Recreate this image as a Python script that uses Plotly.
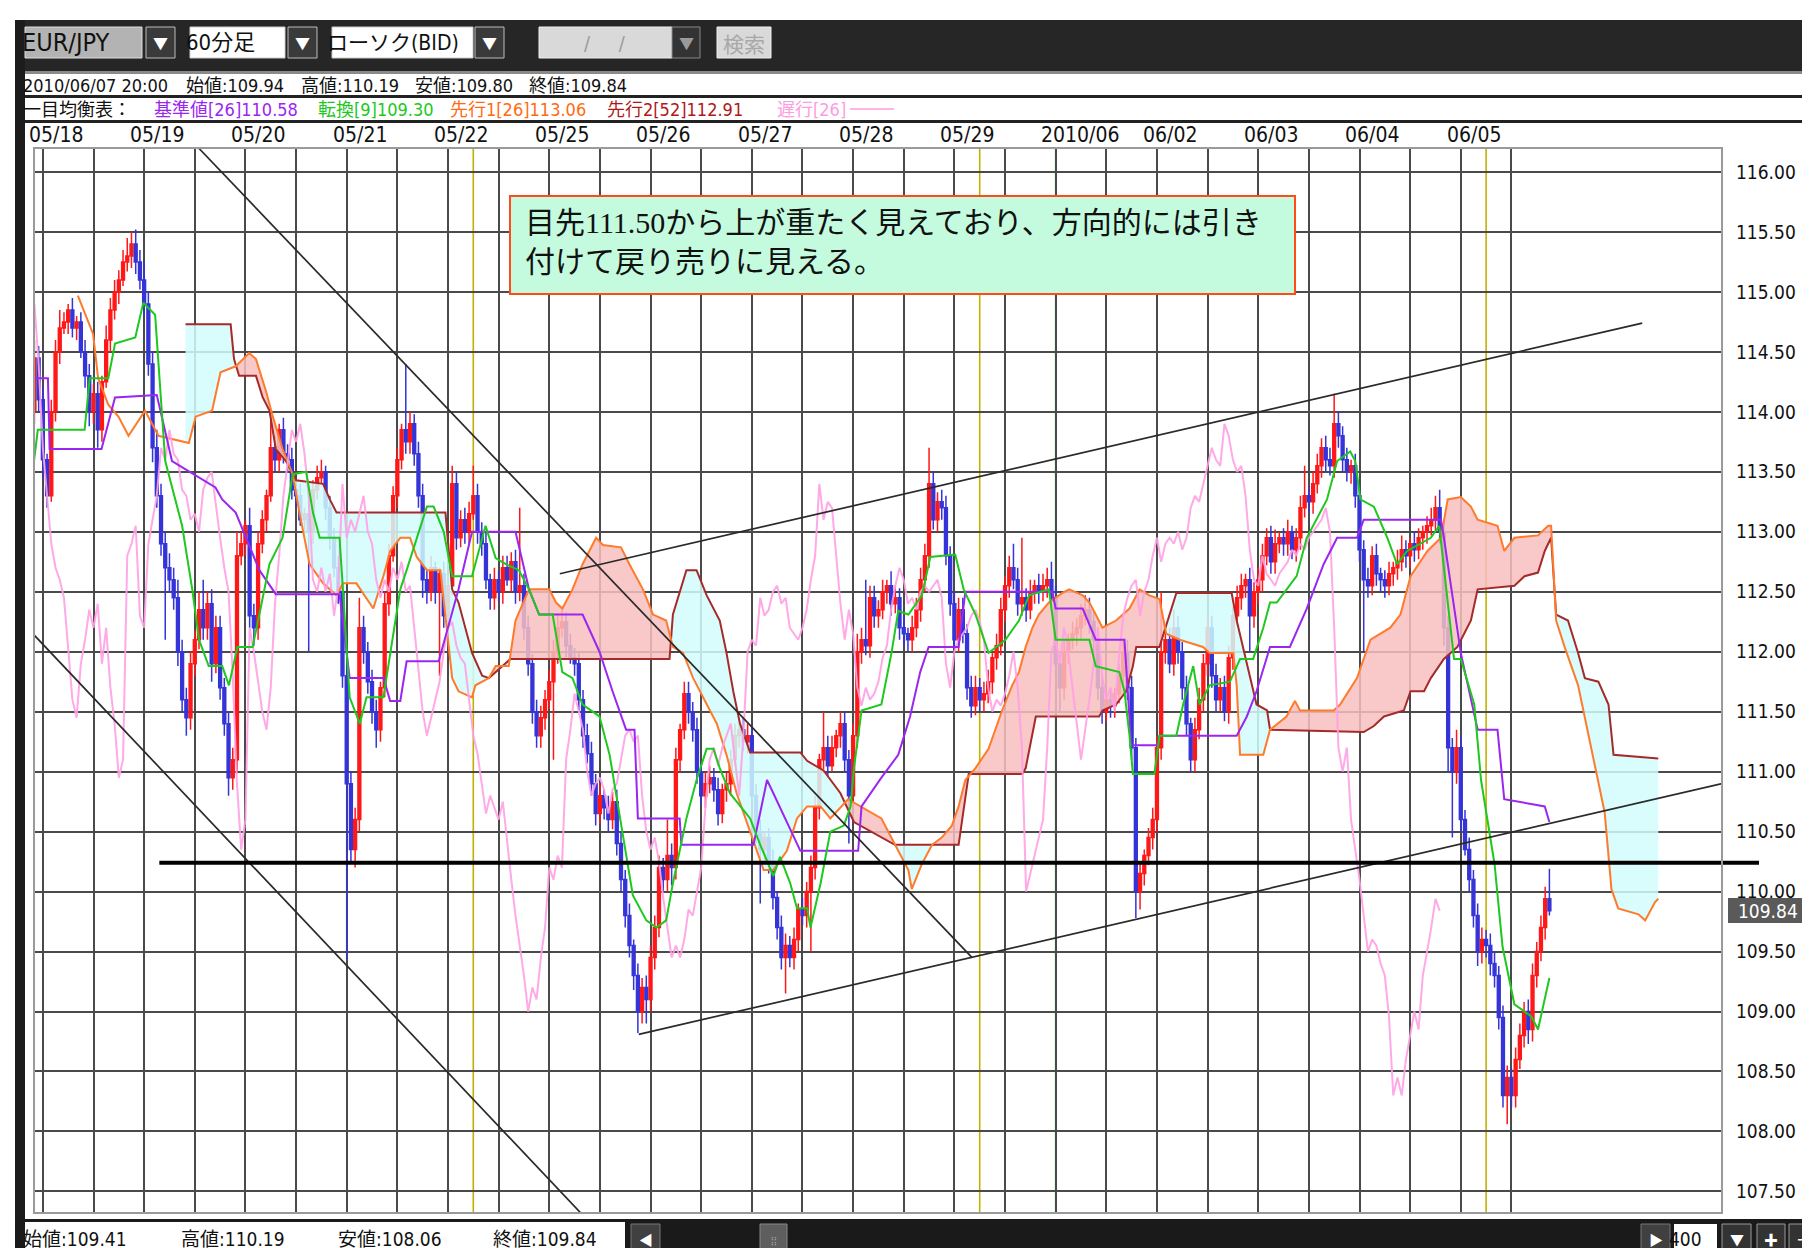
import numpy as np
import plotly.graph_objects as go

W, H = 1810, 1248
L, R, T, B = 26, 1714, 140, 1205
XR = [-0.1, 399.9]
YR = [107.32, 116.2]

COND = "DejaVu Sans Condensed, Liberation Sans Narrow, Noto Sans CJK JP, sans-serif"
JP = "Noto Sans CJK JP, sans-serif"
BOXFONT = "Liberation Serif, Noto Sans CJK JP, serif"

# ---------------- data ----------------
open0 = 114.0
close = [
    114.45, 114.1, 113.6, 113.3, 114.0, 114.5, 114.7, 114.75, 114.85, 114.7,
    114.75, 114.5, 114.3, 114.0, 114.15, 113.85, 114.25, 114.6, 114.85, 115.0,
    115.1, 115.25, 115.3, 115.4, 115.25, 115.1, 114.9, 114.4, 113.7, 113.3,
    112.9, 112.7, 112.6, 112.45, 112.0, 111.6, 111.45, 111.9, 112.1, 112.35,
    112.2, 112.4, 111.9, 112.2, 111.7, 111.4, 110.95, 111.1, 112.8, 112.9,
    113.05, 112.3, 112.2, 112.9, 113.1, 113.3, 113.7, 113.6, 113.85, 113.65,
    113.6, 113.35, 113.3, 113.1, 113.15, 113.0, 113.35, 113.45, 113.5, 113.2,
    112.95, 112.7, 112.5, 111.8, 110.9, 110.35, 110.6, 112.2, 112.0, 111.75,
    111.5, 111.35, 111.7, 112.4, 112.8, 113.3, 113.6, 113.85, 113.75, 113.9,
    113.65, 113.3, 112.6, 112.5, 112.7, 112.5, 112.65, 112.3, 112.55, 113.4,
    112.95, 113.1, 113.0, 113.15, 113.3, 113.0, 112.9, 112.6, 112.45, 112.6,
    112.5, 112.7, 112.6, 112.75, 112.5, 112.55, 112.2, 111.9, 111.5, 111.3,
    111.45, 111.6, 111.75, 112.0, 112.2, 112.25, 112.05, 111.95, 111.9, 111.6,
    111.3, 111.15, 110.9, 110.65, 110.8, 110.7, 110.6, 110.75, 110.4, 110.1,
    109.8, 109.55, 109.3, 109.0, 109.2, 109.1, 109.45, 109.7, 110.2, 110.1,
    110.3, 110.2, 111.1, 111.35, 111.65, 111.5, 111.35, 111.0, 110.8, 110.9,
    110.95, 110.85, 110.65, 110.85, 110.9, 111.1, 111.3, 111.35, 111.25, 111.3,
    110.8, 110.5, 110.35, 110.45, 110.25, 109.95, 109.7, 109.45, 109.55, 109.45,
    109.6, 109.85, 109.8, 110.0, 110.2, 110.7, 111.1, 111.2, 111.05, 111.2,
    111.3, 111.4, 111.1, 110.8, 111.3, 112.0, 112.1, 112.05, 112.45, 112.3,
    112.35, 112.5, 112.55, 112.4, 112.45, 112.2, 112.15, 112.1, 112.2, 112.35,
    112.6, 112.8, 113.4, 113.1, 113.25, 113.2, 112.8, 112.4, 112.1, 112.35,
    112.15, 111.7, 111.55, 111.7, 111.6, 111.65, 111.75, 111.95, 112.05, 112.35,
    112.55, 112.7, 112.6, 112.4, 112.45, 112.35, 112.5, 112.55, 112.5, 112.55,
    112.6, 112.45, 111.9, 111.7, 112.0, 112.1, 112.15, 112.2, 112.3, 112.35,
    112.25, 112.1, 111.7, 111.5, 111.6, 111.55, 111.65, 111.8, 112.0, 111.7,
    111.2, 110.0, 110.15, 110.3, 110.45, 110.6, 111.2, 112.0, 112.1, 111.9,
    112.2, 112.0, 111.7, 111.4, 111.1, 111.35, 111.6, 111.9, 112.2, 111.8,
    111.6, 111.7, 111.5, 111.95, 112.3, 112.45, 112.55, 112.6, 112.3, 112.5,
    112.6, 112.8, 112.95, 112.75, 112.9, 112.95, 112.9, 113.0, 112.85, 112.95,
    113.2, 113.3, 113.25, 113.4, 113.55, 113.7, 113.6, 113.55, 113.9, 113.8,
    113.6, 113.5, 113.55, 113.3, 112.85, 112.6, 112.55, 112.8, 112.65, 112.6,
    112.55, 112.65, 112.7, 112.75, 112.85, 112.8, 112.9, 112.85, 112.95, 113.0,
    113.05, 113.1, 113.2, 113.0, 112.2, 111.2, 111.0, 111.2, 110.6, 110.35,
    110.1, 109.8, 109.5, 109.6, 109.55, 109.4, 109.3, 108.95, 108.3, 108.45,
    108.3, 108.6, 108.8, 109.0, 108.85, 109.3, 109.5, 109.7, 109.94, 109.84,
]
hi_wick = [
    .15, .1, .1, .05, .1, .1, .15, .08, .05, .1, .05, .08, .1, .1, .08, .1, .05, .12, .1, .1,
    .08, .1, .15, .1, .12, .1, .15, .1, .1, .15, .1, .1, .12, .1, .15, .1, .1, .1, .08, .15,
    .25, .1, .12, .1, .1, .08, .1, .1, .2, .1, .05, .15, .1, .1, .08, .05, .25, .1, .05, .1,
    .08, .1, .05, .1, .05, .1, .08, .1, .1, .05, .1, .08, .1, .15, .1, .1, .1, .25, .1, .08,
    .1, .1, .05, .1, .1, .08, .1, .05, .55, .1, .08, .1, .1, .1, .1, .05, .05, .1, .1, .15,
    .1, .08, .1, .1, .25, .1, .08, .1, .05, .1, .08, .1, .1, .08, .1, .65, .1, .1, .08, .1,
    .1, .08, .1, .1, .12, .1, .08, .1, .08, .1, .08, .1, .1, .08, .1, .05, .1, .08, .1, .1,
    .08, .1, .05, .1, .08, .1, .1, .1, .1, .08, .3, .1, .1, .05, .1, .1, .08, .1, .05, .1,
    .1, .08, .1, .05, .1, .08, .1, .08, .1, .1, .08, .1, .1, .05, .08, .1, .05, .1, .1, .08,
    .1, .05, .1, .08, .1, .1, .05, .3, .1, .1, .05, .1, .1, .08, .1, .15, .1, .5, .1, .1,
    .08, .1, .05, .12, .1, .08, .1, .05, .1, .1, .1, .1, .3, .1, .08, .1, .1, .08, .1, .1,
    .1, .08, .1, .1, .08, .1, .1, .05, .1, .1, .08, .1, .2, .1, .5, .08, .1, .05, .1, .1,
    .1, .15, .1, .08, .1, .05, .1, .08, .1, .12, .1, .08, .1, .1, .08, .1, .05, .1, .1, .1,
    .1, .08, .1, .05, .08, .1, .1, .5, .1, .1, .15, .1, .08, .1, .05, .1, .1, .08, .1, .1,
    .1, .08, .1, .1, .08, .1, .1, .05, .1, .08, .1, .1, .08, .1, .12, .05, .08, .1, .05, .08,
    .1, .25, .08, .1, .1, .08, .1, .1, .25, .1, .08, .1, .05, .1, .1, .08, .1, .08, .1, .05,
    .08, .1, .05, .1, .12, .08, .05, .1, .08, .05, .08, .1, .1, .15, .1, .1, .08, .15, .1, .08,
    .1, .08, .1, .1, .08, .1, .1, .08, .1, .1, .08, .1, .1, .08, .1, .1, .08, .1, .1, .25,
]
lo_wick = [
    .1, .1, .15, .1, .05, .08, .1, .05, .1, .08, .1, .05, .1, .12, .1, .15, .1, .05, .1, .08,
    .1, .05, .08, .1, .1, .08, .1, .1, .12, .1, .1, .6, .1, .1, .12, .1, .15, .1, .1, .08,
    .1, .1, .15, .08, .1, .1, .15, .1, .1, .08, .1, .1, .15, .1, .08, .1, .05, .1, .1, .08,
    .1, .08, .1, .05, .1, 1.0, .1, .08, .05, .1, .1, .08, .1, .1, 1.46, .1, .15, .1, .1, .1,
    .1, .15, .1, .08, .1, .05, .1, .08, .1, .1, .1, .1, .15, .1, .08, .1, .7, .1, .1, .08,
    .1, .08, .1, .1, .05, .1, .1, .08, .1, .1, .08, .1, .05, .1, .1, .08, .1, .1, .1, .1,
    .1, .1, .08, .65, .1, .08, .1, .05, .1, .1, .1, .08, .1, .1, .08, .1, .1, .08, .1, .1,
    .1, .1, .12, .18, .1, .2, .1, .1, .08, .1, .1, .15, .1, .1, .08, .1, .1, .1, .08, .1,
    .08, .1, .1, .08, .1, .1, .05, .1, .08, .1, .1, .1, .45, .1, .1, .1, .1, .1, .3, .08,
    .1, .1, .08, .1, .5, .1, .1, .08, .1, .05, .08, .1, .1, .4, .1, .1, .1, .08, .1, .1,
    .1, .08, .1, .1, .08, .1, .1, .1, .1, .08, .1, .1, .1, .08, .1, .1, .08, .1, .1, .1,
    .08, .1, .1, .08, .1, .1, .08, .1, .1, .08, .1, .1, .08, .1, .1, .1, .08, .1, .1, .08,
    .1, .1, .1, .2, .1, .1, .08, .1, .1, .08, .1, .1, .1, .1, .08, .1, .1, .08, .1, .1,
    .1, .22, .15, .1, .08, .1, .1, .1, .1, .08, .1, .1, .1, .1, .1, .1, .08, .1, .1, .1,
    .1, .1, .08, .1, .1, .08, .1, .1, .3, .1, .1, .1, .08, .1, .1, .08, .1, .1, .08, .1,
    .1, .08, .1, .1, .08, .1, .1, .08, .1, .1, .1, .08, .1, .1, .1, .6, .1, .08, .1, .1,
    .1, .08, .1, .1, .08, .1, .1, .1, .08, .1, .1, .08, .1, .1, .15, .2, .55, .1, .1, .05,
    .1, .1, .12, .1, .1, .1, .1, .1, .1, .24, .1, .1, .08, .1, .12, .1, .1, .08, .1, .04,
]

kijun_bar = [0, 3.2, 3.6, 15.9, 19.1, 29.0, 32.6, 42.9, 44.5, 47.7, 53.3, 57.2, 72.3, 74.7, 82.7,
             84.3, 86.7, 88.2, 95.8, 100.5, 103.7, 114, 117.2, 119.6, 129.9, 133.9, 137, 140.2,
             142.2, 143, 152.9, 153.3, 170.4, 173.6, 175.1, 181.5, 195.2, 196, 200.7, 204.7,
             207.5, 209.9, 211.9, 219, 220.6, 241.2, 242, 248.4, 251.5, 258.3, 259.9, 266.2,
             266.6, 284.9, 287.3, 289.6, 292.8, 297.5, 301.5, 305.5, 308.7, 313.4, 315, 333.3,
             334, 338, 342, 346.7, 348.3, 357.9, 359]
kijun_val = [114.28, 114.28, 113.69, 113.69, 114.12, 114.14, 113.59, 113.37, 113.27, 113.16,
             112.68, 112.48, 112.48, 111.78, 111.78, 111.59, 111.59, 111.92, 111.92, 112.52,
             113.0, 113.0, 112.52, 112.31, 112.31, 112.0, 111.67, 111.35, 111.35, 110.61,
             110.61, 110.39, 110.39, 110.93, 110.82, 110.34, 110.34, 110.71, 110.95, 111.14,
             111.46, 111.83, 112.04, 112.04, 112.5, 112.5, 112.36, 112.36, 112.1, 112.1,
             111.22, 111.22, 111.3, 111.3, 111.46, 111.67, 112.04, 112.04, 112.36, 112.73,
             112.95, 112.95, 113.1, 113.1, 112.95, 111.99, 111.35, 111.35, 110.77, 110.71, 110.58]

tenkan_bar = [-0.1, 0.8, 11.9, 13.1, 17.5, 19.1, 23.9, 25.8, 28.6, 29.8, 31, 35, 37.4, 39, 41.3,
              44.5, 46.1, 48.1, 51.7, 53.3, 55.7, 58.8, 61.2, 64.4, 66, 67.6, 72.3, 73.1, 74.7,
              77.1, 78.7, 82.7, 84.3, 86.7, 88.2, 93, 94.6, 97, 99, 103.7, 105.3, 106.9, 109.3,
              111.7, 114.8, 117.2, 119.6, 122.8, 125.1, 127.5, 129.9, 133.9, 136.3, 138.6, 141.8,
              145, 147.4, 149.7, 151.3, 154.5, 156.9, 159.3, 160.9, 162.4, 164.8, 169.6, 172,
              175.1, 176.7, 179.1, 180.7, 183.1, 183.9, 186.3, 188.6, 191.8, 193.4, 194.2, 196,
              200.7, 203.1, 204.7, 207.1, 210.3, 212.3, 218.2, 220.2, 223, 226.1, 230.1, 233.3,
              235.7, 240.4, 242, 250, 251.5, 257.1, 258.3, 259.5, 260.3, 265.4, 266.6, 270.6,
              272.2, 274.6, 276.1, 278.5, 283.3, 285.7, 288.8, 291.2, 292.8, 294.4, 299.1, 301.5,
              306.3, 308.7, 311.8, 313, 314.2, 317.4, 320.6, 322.9, 325.3, 330.9, 332.9, 335.2,
              336.4, 338, 341.2, 342.8, 346, 347.9, 350.7, 354.7, 356.3, 359]
tenkan_val = [113.59, 113.85, 113.85, 114.28, 114.28, 114.57, 114.62, 114.91, 114.81, 114.17,
              113.59, 113.05, 112.52, 112.1, 111.88, 111.88, 111.72, 112.04, 112.04, 112.31,
              112.73, 112.95, 113.48, 113.5, 113.16, 112.95, 112.95, 112.52, 111.62, 111.4,
              111.62, 111.62, 111.99, 112.52, 112.68, 113.21, 113.21, 113.0, 112.63, 112.63,
              112.84, 113.05, 112.78, 112.73, 112.68, 112.52, 112.31, 112.31, 111.83, 111.78,
              111.56, 111.46, 111.14, 110.66, 109.97, 109.76, 109.7, 109.76, 110.07, 110.61,
              110.93, 111.19, 111.19, 111.03, 110.82, 110.61, 110.39, 110.13, 110.29, 110.07,
              109.86, 109.86, 109.7, 110.07, 110.5, 110.55, 110.71, 111.03, 111.51, 111.56,
              111.99, 112.34, 112.31, 112.47, 112.79, 112.81, 112.52, 112.31, 111.99, 112.1,
              112.26, 112.47, 112.52, 112.1, 112.1, 111.88, 111.83, 111.67, 111.3, 110.98,
              110.98, 111.3, 111.3, 111.56, 111.88, 111.56, 111.72, 111.75, 111.94, 111.94,
              112.2, 112.41, 112.41, 112.63, 112.95, 113.27, 113.59, 113.67, 113.59, 113.27,
              113.21, 112.95, 112.73, 112.84, 112.95, 113.05, 112.31, 111.94, 111.94, 111.56,
              110.93, 110.23, 109.54, 109.06, 108.96, 108.85, 109.28]

span1_bar = [10.3, 13.9, 15.1, 17.5, 19.9, 22.3, 26.2, 29.4, 36.6, 38.2, 42.1, 44.1, 47.7, 50.9,
             52.5, 54.9, 56.5, 58.8, 61.2, 62.8, 65.2, 68.4, 71.6, 73.1, 76.3, 79.5, 80.3, 82.7,
             84.3, 86.7, 89, 90.6, 93, 96.2, 97.5, 99, 100.5, 103.7, 104.5, 107.7, 109.3, 112.4,
             114, 117.2, 122, 123.6, 125.1, 127.5, 129.9, 133.1, 134.7, 139, 141, 144.2, 146.6,
             149.7, 151.3, 153.7, 156.1, 158.5, 161.7, 164, 166.4, 169.6, 172.8, 175.1, 178.3,
             180.7, 183.1, 186.3, 188.6, 192.8, 200.7, 204.7, 207.1, 207.9, 210.3, 212.7, 215,
             217.4, 219, 220.6, 223, 226.1, 227.7, 229.3, 231.7, 233.3, 234.9, 236.5, 238, 240.4,
             243.6, 245.2, 248.4, 250, 251.5, 253.1, 256.3, 259.5, 261.9, 264.2, 266.6, 268.2,
             271.4, 276.9, 278.5, 284.1, 284.9, 285.7, 291.2, 292.8, 296.7, 298.7, 299.9, 307.9,
             309.4, 313.4, 316.6, 321.3, 323.7, 326.1, 330.1, 333.3, 334.9, 338, 340.4, 342,
             346.7, 348.3, 350.7, 356.3, 358.7, 359.4, 360.6, 362.6, 365.8, 369, 372.1, 373.7,
             375.3, 380.1, 381.7, 384, 384.8]
span1_val = [114.97, 114.65, 114.28, 114.06, 113.96, 113.8, 114.01, 113.8, 113.74, 113.96, 114.01,
             114.33, 114.38, 114.49, 114.44, 114.17, 113.96, 113.69, 113.48, 113.16, 112.73,
             112.57, 112.47, 112.57, 112.57, 112.41, 112.36, 112.63, 112.84, 112.95, 112.95,
             112.79, 112.68, 112.68, 112.25, 111.78, 111.67, 111.62, 111.72, 111.78, 111.88,
             111.88, 112.26, 112.52, 112.52, 112.41, 112.36, 112.52, 112.73, 112.95, 112.89,
             112.87, 112.73, 112.52, 112.31, 112.26, 112.04, 111.99, 111.78, 111.62, 111.4,
             111.14, 110.82, 110.5, 110.18, 110.18, 110.34, 110.61, 110.71, 110.71, 110.61,
             110.77, 110.61, 110.34, 110.18, 110.02, 110.23, 110.39, 110.45, 110.55, 110.71,
             110.93, 111.03, 111.19, 111.35, 111.51, 111.72, 111.83, 112.04, 112.2, 112.31,
             112.41, 112.49, 112.52, 112.47, 112.41, 112.31, 112.2, 112.26, 112.36, 112.52,
             112.47, 112.44, 112.15, 112.1, 112.04, 111.99, 111.99, 111.72, 111.14, 111.14,
             111.35, 111.46, 111.59, 111.51, 111.51, 111.56, 111.78, 112.1, 112.2, 112.31,
             112.63, 112.84, 112.95, 113.27, 113.29, 113.21, 113.1, 113.05, 112.84, 112.95,
             112.97, 113.05, 113.05, 112.26, 112.04, 111.72, 111.19, 110.66, 110.02, 109.86,
             109.81, 109.76, 109.91, 109.94]

span2_bar = [35.8, 46.5, 47.3, 48.5, 52.5, 54.1, 55.7, 57.2, 59.6, 62, 68.4, 70, 71.6, 97.4, 99,
             100.5, 103.7, 106.1, 107.7, 112.8, 150.5, 151.3, 154.5, 156.9, 159.3, 162.4, 164,
             165.6, 167.2, 169.6, 181.5, 183.1, 187, 191, 194.2, 203.9, 219, 219.8, 221.4, 234.1,
             234.9, 237.3, 252.3, 253.1, 256.3, 258.7, 260.3, 261.1, 266.6, 270.6, 283.7, 284.9,
             288, 289.6, 292.1, 292.8, 315, 317.4, 319.8, 324.5, 326.1, 329.3, 330.9, 334, 337.2,
             340.4, 342, 350.7, 353.1, 356.3, 357.9, 359.4, 360.6, 363.4, 365.8, 367.4, 370.6,
             373, 374.2, 384.8]
span2_val = [114.73, 114.73, 114.44, 114.3, 114.3, 114.12, 114.01, 113.69, 113.59, 113.43, 113.4,
             113.27, 113.16, 113.16, 112.52, 112.41, 111.99, 111.8, 111.78, 111.94, 111.94,
             112.31, 112.68, 112.68, 112.47, 112.26, 111.99, 111.67, 111.4, 111.16, 111.16,
             111.09, 111.01, 110.82, 110.58, 110.39, 110.39, 110.6, 110.98, 110.98, 111.03,
             111.46, 111.46, 111.51, 111.56, 111.67, 111.88, 112.04, 112.04, 112.49, 112.49,
             112.26, 111.78, 111.56, 111.51, 111.35, 111.33, 111.38, 111.46, 111.51, 111.67,
             111.67, 111.78, 111.94, 112.04, 112.26, 112.52, 112.55, 112.63, 112.66, 112.84,
             112.95, 112.31, 112.26, 111.99, 111.78, 111.75, 111.56, 111.14, 111.11]

chikou_shift = 26

# trend lines: (bar, price) endpoints
trend_down_upper = [(38.9, 116.2), (222.2, 109.45)]
trend_down_lower = [(-0.1, 112.14), (130.0, 107.3)]
trend_up_upper = [(124.5, 112.65), (381.0, 114.74)]
trend_up_lower = [(143.2, 108.81), (399.9, 110.9)]
hline_level = 110.24
hline_start_bar = 29.6

week_lines = [104, 224, 344]   # yellow
month_lines = [242]            # green
grid_bars = [2 + 12 * k for k in range(30)]
date_labels = ["05/18", "05/19", "05/20", "05/21", "05/22", "05/25", "05/26", "05/27",
               "05/28", "05/29", "2010/06", "06/02", "06/03", "06/04", "06/05"]
price_ticks = [107.5 + 0.5 * i for i in range(18)]
last_price = 109.84

# ---------------- helpers ----------------
TXT_OFF = 9  # compensate annotation inner padding for left-anchored text


def px(x):
    return (x - L) / (R - L)


def py(y):
    return (B - y) / (B - T)


def bar2paper(b):
    return (b - XR[0]) / (XR[1] - XR[0])


shapes = []
annotations = []


def rect(x0, y0, x1, y1, fill, line=None, lw=0, layer="above"):
    shapes.append(dict(type="rect", xref="paper", yref="paper", x0=px(x0), x1=px(x1),
                       y0=py(y1), y1=py(y0), fillcolor=fill,
                       line=dict(color=line or fill, width=lw), layer=layer))


def text(t, x, y, size, color="#111", family=COND, xanchor="left", yanchor="middle"):
    if xanchor == "left":
        x = x - TXT_OFF
    annotations.append(dict(xref="paper", yref="paper", x=px(x), y=py(y), text=t,
                            showarrow=False, xanchor=xanchor, yanchor=yanchor,
                            font=dict(family=family, size=size, color=color)))


fig = go.Figure()

# ---------------- cloud ----------------
g = np.arange(35.8, 384.81, 0.2)
s1 = np.interp(g, span1_bar, span1_val)
s2 = np.interp(g, span2_bar, span2_val)
up = s1 >= s2
polys = {True: ([], []), False: ([], [])}
i = 0
while i < len(g):
    j = i
    while j + 1 < len(g) and up[j + 1] == up[i]:
        j += 1
    jj = min(j + 1, len(g) - 1)
    xs = list(g[i:jj + 1]) + list(g[i:jj + 1][::-1])
    ys = list(s1[i:jj + 1]) + list(s2[i:jj + 1][::-1])
    polys[bool(up[i])][0].extend(xs + [None])
    polys[bool(up[i])][1].extend(ys + [None])
    i = j + 1
for k, col in ((True, "rgba(248,190,190,0.85)"), (False, "rgba(210,251,251,0.85)")):
    fig.add_trace(go.Scatter(x=polys[k][0], y=polys[k][1], fill="toself", fillcolor=col,
                             mode="none", hoverinfo="skip", showlegend=False))

fig.add_trace(go.Scatter(x=span2_bar, y=span2_val, mode="lines",
                         line=dict(color="#a52a2a", width=2), hoverinfo="skip", showlegend=False))
fig.add_trace(go.Scatter(x=span1_bar, y=span1_val, mode="lines",
                         line=dict(color="#ff7a2a", width=2), hoverinfo="skip", showlegend=False))

# ---------------- chikou ----------------
n = len(close)
fig.add_trace(go.Scatter(x=list(range(n - chikou_shift)), y=close[chikou_shift:], mode="lines",
                         line=dict(color="rgba(255,160,228,0.9)", width=2),
                         hoverinfo="skip", showlegend=False))

# ---------------- candles ----------------
bars = list(range(n))
opens = [open0] + close[:-1]
highs = [max(o, c) + w for o, c, w in zip(opens, close, hi_wick)]
lows = [min(o, c) - w for o, c, w in zip(opens, close, lo_wick)]
fig.add_trace(go.Candlestick(x=bars, open=opens, high=highs, low=lows, close=close,
                             increasing=dict(line=dict(color="#ff1818", width=1.5), fillcolor="#ff1818"),
                             decreasing=dict(line=dict(color="#3434d8", width=1.5), fillcolor="#3434d8"),
                             whiskerwidth=0, hoverinfo="skip", showlegend=False))

# ---------------- kijun / tenkan ----------------
fig.add_trace(go.Scatter(x=kijun_bar, y=kijun_val, mode="lines",
                         line=dict(color="#9b26f0", width=2), hoverinfo="skip", showlegend=False))
fig.add_trace(go.Scatter(x=tenkan_bar, y=tenkan_val, mode="lines",
                         line=dict(color="#1ec81e", width=2), hoverinfo="skip", showlegend=False))

# ---------------- trend lines ----------------
for tl in (trend_down_upper, trend_down_lower, trend_up_upper, trend_up_lower):
    fig.add_trace(go.Scatter(x=[p[0] for p in tl], y=[p[1] for p in tl], mode="lines",
                             line=dict(color="#2a2a2a", width=1.7), hoverinfo="skip",
                             showlegend=False, cliponaxis=True))

# vertical week / month lines
for b in week_lines:
    shapes.append(dict(type="line", xref="x", yref="paper", x0=b, x1=b, y0=0, y1=1,
                       line=dict(color="#c2b000", width=1.6), layer="below"))
for b in month_lines:
    shapes.append(dict(type="line", xref="x", yref="paper", x0=b, x1=b, y0=0, y1=1,
                       line=dict(color="#2ecc2e", width=1.6), layer="below"))

# thick horizontal level line (extends into price column)
shapes.append(dict(type="line", xref="paper", yref="y", x0=bar2paper(hline_start_bar),
                   x1=px(1751), y0=hline_level, y1=hline_level,
                   line=dict(color="#000000", width=4), layer="above"))

# plot frame
shapes.append(dict(type="rect", xref="paper", yref="paper", x0=0, x1=1, y0=0, y1=1,
                   line=dict(color="#9a9a9a", width=2), fillcolor="rgba(0,0,0,0)", layer="above"))

# ---------------- chrome: toolbar / info rows / bottom bar ----------------
rect(7, 12, 1810, 63, "#262626")
rect(7, 63, 1810, 66, "#8a8a8a")
rect(7, 12, 17, 1248, "#1c1c1c")
rect(17, 87, 1810, 90, "#222222")
rect(17, 112, 1810, 115, "#222222")

# toolbar controls
rect(17, 19, 134, 50, "#b3b3b3", "#dddddd", 1)
text("EUR/JPY", 21, 35, 25, "#111")
for x0 in (138, 280, 467):
    rect(x0, 19, x0 + 29, 50, "#3a3a3a", "#bbbbbb", 1)
    text("▼", x0 + 14.5, 35, 15, "#ffffff", JP, "center")
rect(182, 19, 277, 50, "#ffffff", "#cccccc", 1)
text("60分足", 185, 35, 22, "#111", COND)
rect(324, 19, 465, 50, "#ffffff", "#cccccc", 1)
text("ローソク(BID)", 326, 35, 21, "#111", COND)
rect(531, 19, 664, 50, "#d9d9d9", "#eeeeee", 1)
text("/&nbsp;&nbsp;&nbsp;&nbsp;&nbsp;/", 597, 35, 20, "#9a9a9a", COND, "center")
rect(664, 19, 692, 50, "#333333", "#888888", 1)
text("▼", 678, 35, 15, "#9a9a9a", JP, "center")
rect(709, 19, 763, 50, "#d9d9d9", "#eeeeee", 1)
text("検索", 736, 35, 21, "#a8a8a8", JP, "center")

# info row 1
text("2010/06/07 20:00", 22, 77, 18, "#111")
text("始値:109.94", 185, 77, 18, "#111")
text("高値:110.19", 300, 77, 18, "#111")
text("安値:109.80", 414, 77, 18, "#111")
text("終値:109.84", 528, 77, 18, "#111")
# info row 2
text("一目均衡表：", 22, 101, 18, "#111")
text("基準値[26]110.58", 153, 101, 18, "#9b26f0")
text("転換[9]109.30", 317, 101, 18, "#1ec81e")
text("先行1[26]113.06", 449, 101, 18, "#ff6a10")
text("先行2[52]112.91", 606, 101, 18, "#b01818")
text("遅行[26]", 776, 101, 18, "#ff9ce0")
shapes.append(dict(type="line", xref="paper", yref="paper", x0=px(842), x1=px(886),
                   y0=py(101), y1=py(101), line=dict(color="#ff9ce0", width=1.5)))

# date labels (paper coordinates so the first label is not dropped)
for m, lab in enumerate(date_labels):
    annotations.append(dict(xref="paper", yref="paper",
                            x=bar2paper(grid_bars[2 * m] - 1.7) - TXT_OFF / (R - L), y=py(127),
                            text=lab, showarrow=False, xanchor="left", yanchor="middle",
                            font=dict(family=COND, size=21, color="#111")))

# bottom bar
rect(7, 1211, 1810, 1248, "#1a1a1a")
rect(17, 1214, 617, 1248, "#ffffff")
text("始値:109.41", 22, 1231, 19, "#111")
text("高値:110.19", 180, 1231, 19, "#111")
text("安値:108.06", 337, 1231, 19, "#111")
text("終値:109.84", 492, 1231, 19, "#111")
rect(623, 1216, 652, 1246, "#404040", "#777777", 1)
text("◀", 637.5, 1231, 14, "#ffffff", JP, "center")
rect(752, 1216, 779, 1246, "#5e5e5e", "#888888", 1)
text("⦙⦙", 765.5, 1231, 12, "#bbbbbb", JP, "center")
rect(1633, 1216, 1662, 1246, "#404040", "#777777", 1)
text("▶", 1647.5, 1231, 14, "#ffffff", JP, "center")
rect(1666, 1216, 1709, 1246, "#ffffff")
text("400", 1668, 1231, 19, "#111")
rect(1714, 1216, 1743, 1246, "#333333", "#999999", 1)
text("▼", 1728.5, 1231, 14, "#ffffff", JP, "center")
rect(1749, 1216, 1777, 1246, "#333333", "#999999", 1)
text("✚", 1763, 1231, 14, "#ffffff", JP, "center")
rect(1781, 1216, 1810, 1246, "#333333", "#999999", 1)
text("━", 1795.5, 1231, 12, "#ffffff", JP, "center")

# comment box
rect(502, 188, 1287, 286, "#c4fbdf", "#ff4a1a", 2)
annotations.append(dict(xref="paper", yref="paper", x=px(524 - TXT_OFF), y=py(196),
                        text="目先111.50から上が重たく見えており、方向的には引き<br>付けて戻り売りに見える。",
                        showarrow=False, xanchor="left", yanchor="top", align="left",
                        font=dict(family=BOXFONT, size=30, color="#111")))

# last price tag
rect(1720, 890, 1800, 915, "#5a5a5a")
annotations.append(dict(xref="paper", yref="y", x=px(1760), y=last_price,
                        text=f"{last_price:.2f}", showarrow=False, xanchor="center",
                        yanchor="middle", font=dict(family=COND, size=19, color="#ffffff")))

fig.update_layout(
    width=W, height=H,
    margin=dict(l=L, r=W - R, t=T, b=H - B, pad=0),
    paper_bgcolor="#ffffff", plot_bgcolor="#ffffff",
    showlegend=False,
    shapes=shapes, annotations=annotations,
    xaxis=dict(range=XR, tickvals=grid_bars, showticklabels=False, ticks="",
               showgrid=True, gridcolor="#4a4a4a", gridwidth=1.6, zeroline=False,
               rangeslider=dict(visible=False), fixedrange=True, showline=False),
    yaxis=dict(range=YR, side="right", tickvals=price_ticks,
               ticktext=[f"{v:.2f}" for v in price_ticks], ticks="", ticklabelstandoff=13,
               tickfont=dict(family=COND, size=19, color="#111"),
               showgrid=True, gridcolor="#4a4a4a", gridwidth=1.6, zeroline=False,
               fixedrange=True, showline=False),
    boxgap=0.05,
)

fig.write_html("out.html")
